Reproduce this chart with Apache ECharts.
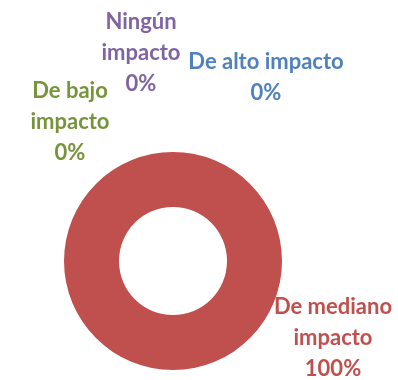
<!DOCTYPE html>
<html>
<head>
<meta charset="utf-8">
<script src="https://cdn.jsdelivr.net/npm/echarts@6/dist/echarts.min.js"></script>
<style>
  html, body { margin: 0; padding: 0; background: #ffffff; }
  #chart { width: 398px; height: 380px; }
</style>
</head>
<body>
<div id="chart"></div>
<script>
// Impact categories, their shares, and slice/label colours
const categories = ['De alto impacto', 'De mediano\nimpacto', 'De bajo\nimpacto', 'Ningún\nimpacto'];
const values = [0, 100, 0, 0];
const colors = ['#4F81BD', '#C0504D', '#9BBB59', '#8064A2'];
const labelColors = ['#4F81BD', '#C0504D', '#77933C', '#8064A2'];

// Label anchor points (centre of each text block), in pixels
const labelSpots = [[266, 77], [333, 338], [70, 122], [141, 53]];

const chart = echarts.init(document.getElementById('chart'), null, { renderer: 'canvas' });

chart.setOption({
  animation: false,
  series: [{
    type: 'pie',
    center: [173, 261],
    radius: [54, 109],
    startAngle: 90,
    clockwise: true,
    avoidLabelOverlap: false,
    minAngle: 0,
    itemStyle: { borderWidth: 0 },
    label: {
      show: true,
      formatter: '{b}\n{d}%',
      fontFamily: 'Lato',
      fontWeight: 'bold',
      fontSize: 22,
      lineHeight: 31,
      align: 'center'
    },
    labelLine: { show: false },
    labelLayout: function (params) {
      const p = labelSpots[params.dataIndex];
      return { x: p[0], y: p[1], align: 'center', verticalAlign: 'middle' };
    },
    emphasis: { disabled: true },
    data: categories.map(function (name, i) {
      return {
        name: name,
        value: values[i],
        itemStyle: { color: colors[i] },
        label: { color: labelColors[i] }
      };
    })
  }]
});
</script>
</body>
</html>
